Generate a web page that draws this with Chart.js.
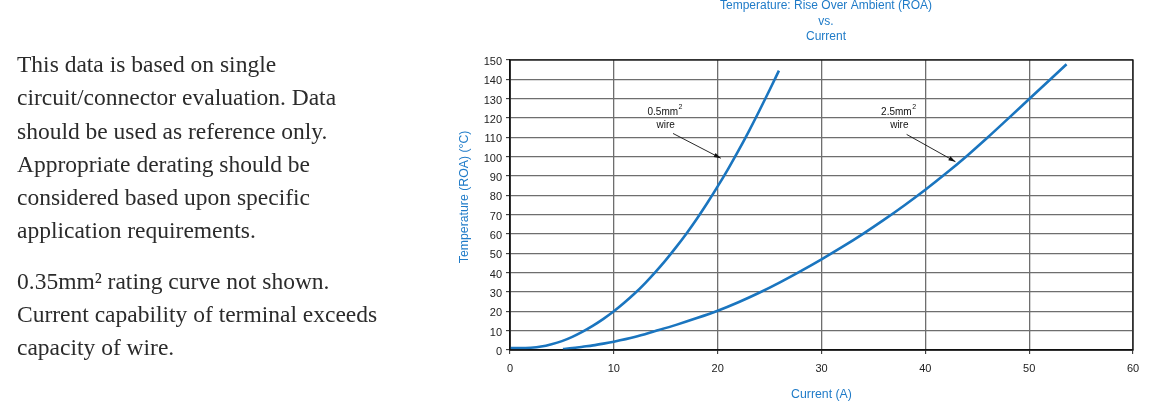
<!DOCTYPE html>
<html>
<head>
<meta charset="utf-8">
<script src="https://cdn.jsdelivr.net/npm/chart.js@4/dist/chart.umd.min.js"></script>
<style>
  html, body { margin: 0; padding: 0; background: #fff; }
  body { width: 1153px; height: 402px; position: relative; overflow: hidden; }
  #wrap { position: absolute; left: 0; top: 0; width: 1153px; height: 402px; }
  #note { position: absolute; left: 17px; top: 48px; width: 430px;
          font-family: "Liberation Serif", "DejaVu Serif", serif; font-size: 23.5px;
          line-height: 33.3px; color: #2b2b2b; white-space: nowrap; }
  #note p { margin: 0 0 17px 0; }
</style>
</head>
<body>
<div id="wrap"><canvas id="c"></canvas></div>
<div id="note">
  <p>This data is based on single<br>circuit/connector evaluation. Data<br>should be used as reference only.<br>Appropriate derating should be<br>considered based upon specific<br>application requirements.</p>
  <p>0.35mm² rating curve not shown.<br>Current capability of terminal exceeds<br>capacity of wire.</p>
</div>
<script>
// ---- data ----
const current05 = [0, 1, 2, 3, 4, 5, 6, 7, 8, 9, 10, 11, 12, 13, 14, 15, 16, 17, 18, 19, 20, 21, 22, 23, 24, 25, 25.9];
const temp05    = [1, 1, 1.2, 1.8, 3, 4.6, 6.8, 9.5, 12.6, 16.1, 20, 24.4, 29.2, 34.5, 40.3, 46.5, 53.2, 60.3, 67.9, 76, 84.6, 93.6, 103.1, 113.1, 123.6, 134.5, 144.5];
const current25 = [5.1, 6, 7, 8, 9, 10, 12, 14, 16, 18, 20, 22, 24, 26, 28, 30, 32, 34, 36, 38, 40, 42, 44, 46, 48, 50, 52, 53.6];
const temp25    = [0.5, 1.0, 1.7, 2.4, 3.3, 4.3, 6.7, 9.8, 13.0, 16.5, 20.3, 24.7, 29.6, 35.0, 40.8, 46.9, 53.3, 60.1, 67.3, 74.9, 82.9, 91.4, 100.4, 109.9, 119.8, 129.8, 139.8, 147.8];
const seriesLabels = ['0.5mm² wire', '2.5mm² wire'];
const xTicks = [0, 10, 20, 30, 40, 50, 60];
const yTicks = [0, 10, 20, 30, 40, 50, 60, 70, 80, 90, 100, 110, 120, 130, 140, 150];
const titleLines = ['Temperature: Rise Over Ambient (ROA)', 'vs.', 'Current'];
const xTitle = 'Current (A)';
const yTitle = 'Temperature (ROA) (°C)';

// annotation callouts (data coordinates)
const callouts = [
  { main: '0.5mm', sup: '2', sub: 'wire', lx: 14.9, ly: 123.2, wy: 116.4, ax0: 15.7, ay0: 112.0, ax1: 20.3, ay1: 99.2 },
  { main: '2.5mm', sup: '2', sub: 'wire', lx: 37.4, ly: 123.2, wy: 116.4, ax0: 38.2, ay0: 111.5, ax1: 42.9, ay1: 97.4 }
];

const toPts = (xs, ys) => xs.map((x, i) => ({ x: x, y: ys[i] }));

const FONT = '"Liberation Sans", Arial, sans-serif';
const blueText = '#1f7bc8';
const curveBlue = '#1a75bf';
const gridColor = '#6e6e6e';

const calloutPlugin = {
  id: 'callouts',
  afterDatasetsDraw(chart) {
    const { ctx, scales: { x, y } } = chart;
    ctx.save();
    callouts.forEach(c => {
      const lx = x.getPixelForValue(c.lx), ly = y.getPixelForValue(c.ly);
      const wy = y.getPixelForValue(c.wy);
      ctx.fillStyle = '#111';
      ctx.textBaseline = 'middle';
      ctx.font = '10px ' + FONT;
      const wMain = ctx.measureText(c.main).width;
      ctx.font = '7px ' + FONT;
      const wSup = ctx.measureText(c.sup).width;
      const start = lx - (wMain + wSup) / 2;
      ctx.textAlign = 'left';
      ctx.font = '10px ' + FONT;
      ctx.fillText(c.main, start, ly);
      ctx.font = '7px ' + FONT;
      ctx.fillText(c.sup, start + wMain + 0.5, ly - 5);
      ctx.font = '10px ' + FONT;
      ctx.textAlign = 'center';
      ctx.fillText(c.sub, lx + 1, wy);
      const x0 = x.getPixelForValue(c.ax0), y0 = y.getPixelForValue(c.ay0);
      const x1 = x.getPixelForValue(c.ax1), y1 = y.getPixelForValue(c.ay1);
      ctx.strokeStyle = '#111';
      ctx.lineWidth = 0.9;
      ctx.beginPath(); ctx.moveTo(x0, y0); ctx.lineTo(x1, y1); ctx.stroke();
      const ang = Math.atan2(y1 - y0, x1 - x0);
      const L = 7, W = 2.2;
      ctx.beginPath();
      ctx.moveTo(x1, y1);
      ctx.lineTo(x1 - L * Math.cos(ang) + W * Math.sin(ang), y1 - L * Math.sin(ang) - W * Math.cos(ang));
      ctx.lineTo(x1 - L * Math.cos(ang) - W * Math.sin(ang), y1 - L * Math.sin(ang) + W * Math.cos(ang));
      ctx.closePath();
      ctx.fill();
    });
    ctx.restore();
  }
};

const textPlugin = {
  id: 'titles',
  afterDraw(chart) {
    const { ctx, chartArea: a } = chart;
    ctx.save();
    // frame
    ctx.strokeStyle = '#111'; ctx.lineWidth = 1.3;
    ctx.strokeRect(a.left, a.top, a.right - a.left, a.bottom - a.top);
    // chart title
    ctx.fillStyle = blueText;
    ctx.textAlign = 'center';
    ctx.textBaseline = 'middle';
    ctx.font = '12px ' + FONT;
    const cx = (a.left + a.right) / 2 + 4.5;
    const lineY = [6, 21.5, 36.7];
    titleLines.forEach((t, i) => ctx.fillText(t, cx, lineY[i]));
    // y-axis title
    ctx.font = '12.3px ' + FONT;
    ctx.translate(465, a.top + (a.bottom - a.top) * 0.472);
    ctx.rotate(-Math.PI / 2);
    ctx.fillText(yTitle, 0, 0);
    ctx.restore();
  }
};

new Chart(document.getElementById('c'), {
  type: 'line',
  data: {
    datasets: [
      { label: seriesLabels[0], data: toPts(current05, temp05) },
      { label: seriesLabels[1], data: toPts(current25, temp25) }
    ].map(d => Object.assign(d, {
      borderColor: curveBlue, borderWidth: 2.6, pointRadius: 0,
      cubicInterpolationMode: 'monotone', fill: false
    }))
  },
  options: {
    responsive: true,
    maintainAspectRatio: false,
    animation: false,
    layout: { padding: { left: 455, right: 20, top: 60, bottom: 0 } },
    plugins: {
      legend: { display: false },
      tooltip: { enabled: false },
      title: { display: false }
    },
    scales: {
      x: {
        type: 'linear', min: 0, max: 60,
        afterBuildTicks: s => { s.ticks = xTicks.map(v => ({ value: v })); },
        afterFit: s => { s.height = 52; },
        grid: { color: gridColor, lineWidth: 1.3, drawTicks: true, tickLength: 4, tickColor: '#222', tickWidth: 1 },
        border: { color: '#111', width: 1.5 },
        ticks: { color: '#222', padding: 8, font: { family: FONT, size: 11 } },
        title: { display: true, text: xTitle, color: blueText, padding: { top: 0, bottom: 0 },
                 font: { family: FONT, size: 12.3 } }
      },
      y: {
        type: 'linear', min: 0, max: 150,
        afterBuildTicks: s => { s.ticks = yTicks.map(v => ({ value: v })); },
        afterFit: s => { s.width = 55; },
        grid: { color: gridColor, lineWidth: 1.3, drawTicks: true, tickLength: 4, tickColor: '#222', tickWidth: 1 },
        border: { color: '#111', width: 1.5 },
        ticks: { color: '#222', padding: 4, labelOffset: 2, font: { family: FONT, size: 11 } },
        title: { display: false }
      }
    }
  },
  plugins: [calloutPlugin, textPlugin]
});
</script>
</body>
</html>
